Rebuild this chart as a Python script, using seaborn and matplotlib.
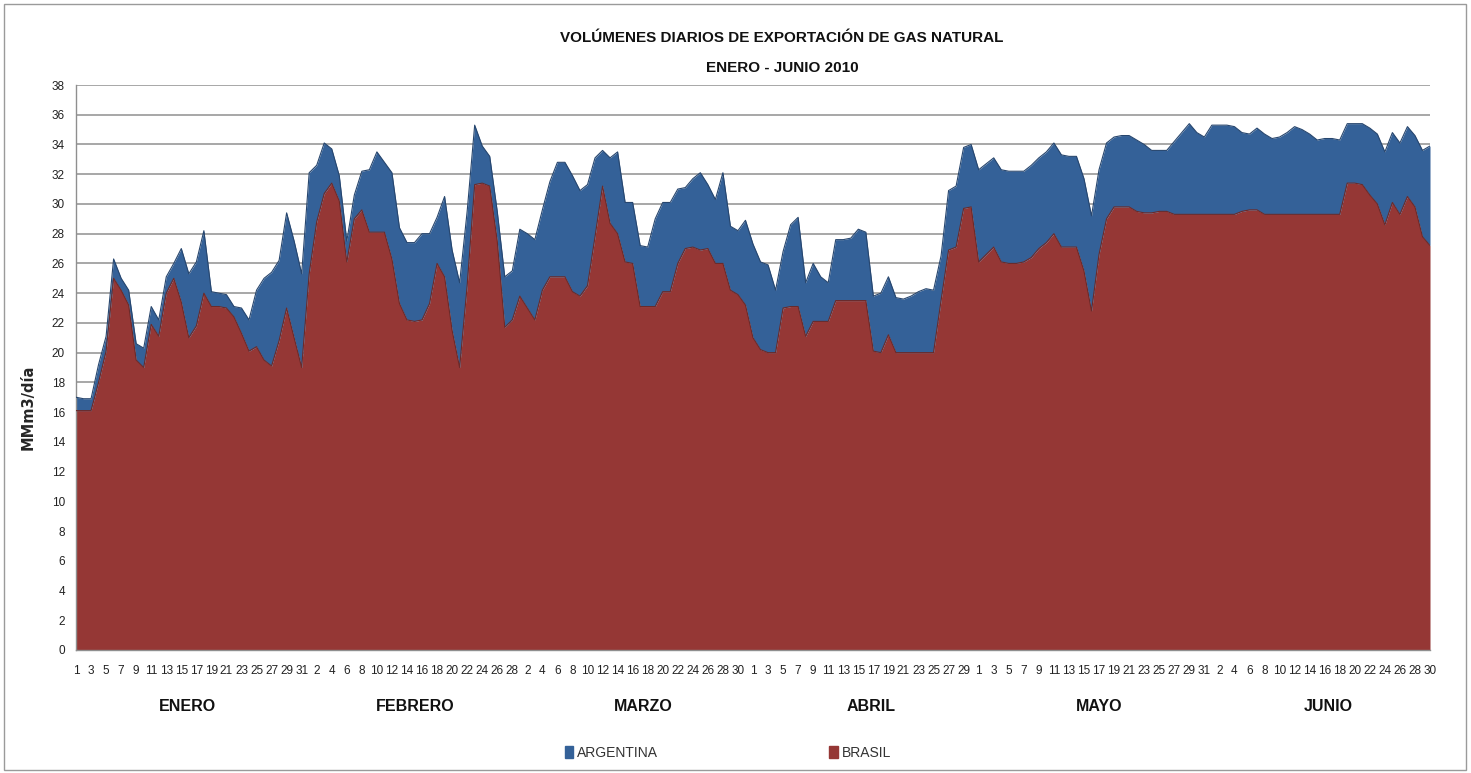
import matplotlib
matplotlib.use("Agg")
import matplotlib.pyplot as plt
from matplotlib.patches import Patch, Rectangle
import numpy as np
import pandas as pd
import seaborn as sns

months = ["ENERO", "FEBRERO", "MARZO", "ABRIL", "MAYO", "JUNIO"]
month_days = [31, 28, 31, 30, 31, 30]

# Brasil, MMm3/dia (lower layer of the stack)
brasil_ene = [16.1, 16.1, 16.1, 18.0, 20.1, 25.0, 24.2, 23.2, 19.5, 19.0, 21.9, 21.1, 24.0, 25.0, 23.4, 21.0,
              21.8, 24.0, 23.1, 23.1, 23.0, 22.4, 21.3, 20.1, 20.4, 19.5, 19.1, 20.8, 23.0, 21.0, 19.0]
brasil_feb = [25.3, 28.8, 30.7, 31.4, 30.2, 26.1, 29.0, 29.6, 28.1, 28.1, 28.1, 26.3, 23.3, 22.2, 22.1, 22.2,
              23.3, 26.0, 25.1, 21.5, 19.0, 24.5, 31.3, 31.4, 31.2, 27.5, 21.7, 22.2]
brasil_mar = [23.8, 23.0, 22.2, 24.2, 25.1, 25.1, 25.1, 24.1, 23.8, 24.5, 27.8, 31.2, 28.7, 28.0, 26.1, 26.0,
              23.1, 23.1, 23.1, 24.1, 24.1, 26.0, 27.0, 27.1, 26.9, 27.0, 26.0, 26.0, 24.2, 23.9, 23.2]
brasil_abr = [21.0, 20.2, 20.0, 20.0, 23.0, 23.1, 23.1, 21.1, 22.1, 22.1, 22.1, 23.5, 23.5, 23.5, 23.5, 23.5,
              20.1, 20.0, 21.2, 20.0, 20.0, 20.0, 20.0, 20.0, 20.0, 23.5, 26.9, 27.1, 29.7, 29.8]
brasil_may = [26.1, 26.6, 27.1, 26.1, 26.0, 26.0, 26.1, 26.4, 27.0, 27.4, 28.0, 27.1, 27.1, 27.1, 25.5, 22.8,
              26.6, 29.0, 29.8, 29.8, 29.8, 29.5, 29.4, 29.4, 29.5, 29.5, 29.3, 29.3, 29.3, 29.3, 29.3]
brasil_jun = [29.3, 29.3, 29.3, 29.3, 29.5, 29.6, 29.6, 29.3, 29.3, 29.3, 29.3, 29.3, 29.3, 29.3, 29.3, 29.3,
              29.3, 29.3, 31.4, 31.4, 31.3, 30.6, 30.0, 28.6, 30.1, 29.3, 30.5, 29.8, 27.8, 27.2]

# Brasil + Argentina (top of the stack)
total_ene = [17.0, 16.9, 16.9, 19.2, 21.1, 26.3, 25.0, 24.2, 20.6, 20.3, 23.1, 22.2, 25.1, 26.0, 27.0, 25.3,
             26.1, 28.2, 24.1, 24.0, 23.9, 23.1, 23.0, 22.2, 24.2, 25.0, 25.4, 26.2, 29.4, 27.5, 25.3]
total_feb = [32.1, 32.6, 34.1, 33.7, 31.9, 27.5, 30.6, 32.2, 32.3, 33.5, 32.8, 32.1, 28.4, 27.4, 27.4, 28.0,
             28.0, 29.1, 30.5, 26.9, 24.7, 29.5, 35.3, 33.9, 33.2, 29.5, 25.1, 25.5]
total_mar = [28.3, 28.0, 27.6, 29.6, 31.5, 32.8, 32.8, 31.9, 30.9, 31.3, 33.1, 33.6, 33.1, 33.5, 30.1, 30.1,
             27.2, 27.1, 29.0, 30.1, 30.1, 31.0, 31.1, 31.7, 32.1, 31.3, 30.3, 32.1, 28.5, 28.2, 28.9]
total_abr = [27.3, 26.1, 25.9, 24.2, 26.8, 28.6, 29.1, 24.7, 26.0, 25.1, 24.7, 27.6, 27.6, 27.7, 28.3, 28.1,
             23.8, 24.0, 25.1, 23.7, 23.6, 23.8, 24.1, 24.3, 24.2, 26.5, 30.9, 31.2, 33.8, 34.0]
total_may = [32.3, 32.7, 33.1, 32.3, 32.2, 32.2, 32.2, 32.6, 33.1, 33.5, 34.1, 33.3, 33.2, 33.2, 31.7, 29.2,
             32.3, 34.1, 34.5, 34.6, 34.6, 34.3, 34.0, 33.6, 33.6, 33.6, 34.2, 34.8, 35.4, 34.8, 34.5]
total_jun = [35.3, 35.3, 35.3, 35.2, 34.8, 34.7, 35.1, 34.7, 34.4, 34.5, 34.8, 35.2, 35.0, 34.7, 34.3, 34.4,
             34.4, 34.3, 35.4, 35.4, 35.4, 35.1, 34.7, 33.5, 34.8, 34.1, 35.2, 34.6, 33.6, 33.9]

brasil = brasil_ene + brasil_feb + brasil_mar + brasil_abr + brasil_may + brasil_jun
total = total_ene + total_feb + total_mar + total_abr + total_may + total_jun
day_of_month = [d for n in month_days for d in range(1, n + 1)]

df = pd.DataFrame({"dia": np.arange(len(brasil)), "BRASIL": brasil, "TOTAL": total})
df["ARGENTINA"] = df["TOTAL"] - df["BRASIL"]

blue = "#346198"
red = "#953735"

sns.set_theme(style="white")
plt.rcParams["font.family"] = ["Liberation Sans Narrow", "Liberation Sans", "DejaVu Sans"]

fig = plt.figure(figsize=(14.71, 7.73), dpi=100)
ax = fig.add_axes([76 / 1471, 1 - 650 / 773, 1354 / 1471, 565 / 773])

# stacked areas: Brasil at the bottom, Argentina on top
ax.fill_between(df["dia"], 0, df["BRASIL"], color=red, lw=0, zorder=2)
ax.fill_between(df["dia"], df["BRASIL"], df["TOTAL"], color=blue, lw=0, zorder=2)
sns.lineplot(data=df, x="dia", y="BRASIL", color="#6b2a2a", lw=0.8, ax=ax, zorder=3)
sns.lineplot(data=df, x="dia", y="TOTAL", color="#27466e", lw=0.8, ax=ax, zorder=3)

ax.set_xlim(0, len(brasil) - 1)
ax.set_ylim(0, 38)
ax.set_yticks(range(0, 39, 2))
ax.yaxis.grid(True, color="#8f8f8f", lw=1.1)
ax.set_axisbelow(True)
ax.set_xticks(df["dia"][::2])
ax.set_xticklabels([str(d) for d in day_of_month[::2]])
ax.tick_params(axis="x", length=0, pad=11, labelsize=8.5, colors="#222222")
ax.tick_params(axis="y", length=0, pad=8, labelsize=8.5, colors="#222222")
for s in ["top", "right"]:
    ax.spines[s].set_visible(False)
for s in ["left", "bottom"]:
    ax.spines[s].set_color("#8f8f8f")
    ax.spines[s].set_linewidth(1.0)
ax.set_xlabel("")
ax.set_ylabel("MMm3/día", fontsize=10.5, fontweight="bold", family=["DejaVu Sans"])
ax.yaxis.set_label_coords(-0.030, 0.43)

for k, m in enumerate(months):
    ax.text(0.082 + k * 0.1685, -0.1, m, transform=ax.transAxes, ha="center", va="center",
            fontsize=11.5, fontweight="bold", color="#111111")

fig.text(782 / 1471, 1 - 38 / 773, "VOLÚMENES DIARIOS DE EXPORTACIÓN DE GAS NATURAL",
         ha="center", va="center", fontsize=11, fontweight="bold", color="#111111")
fig.text(782 / 1471, 1 - 68 / 773, "ENERO - JUNIO 2010",
         ha="center", va="center", fontsize=11, fontweight="bold", color="#111111")

handles = [Patch(facecolor=blue, edgecolor=blue, label="ARGENTINA"),
           Patch(facecolor=red, edgecolor=red, label="BRASIL")]
fig.legend(handles=handles, loc="center", bbox_to_anchor=(728 / 1471, 1 - 753 / 773), ncol=2,
           frameon=False, fontsize=10, handlelength=0.6, handleheight=0.9, handletextpad=0.3,
           columnspacing=12.3, labelcolor="#333333")

fig.patches.append(Rectangle((4 / 1471, 3 / 773), 1462 / 1471, 766 / 773, transform=fig.transFigure,
                             fill=False, edgecolor="#9a9a9a", lw=1.0))

fig.savefig("out.png", dpi=100)
